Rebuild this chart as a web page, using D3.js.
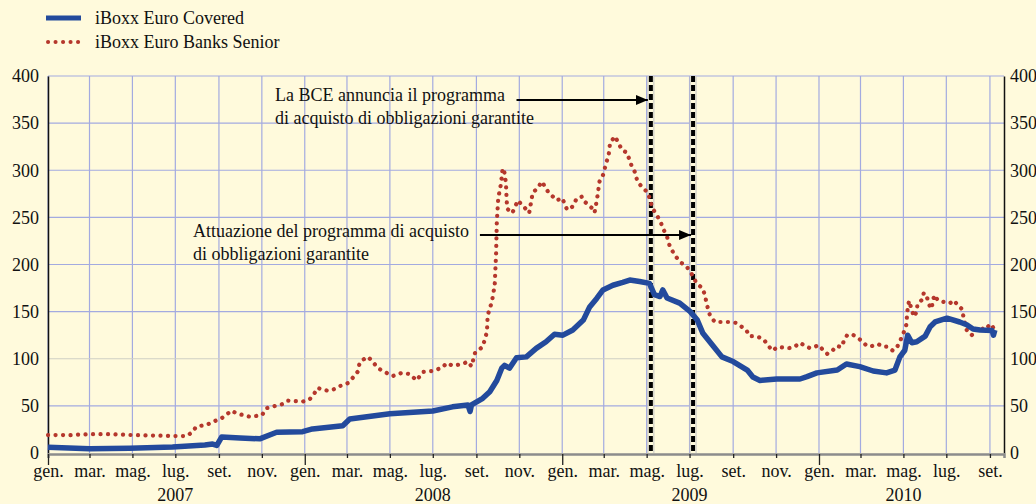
<!DOCTYPE html>
<html>
<head>
<meta charset="utf-8">
<script src="https://cdn.jsdelivr.net/npm/d3@7"></script>
<style>
  body { margin: 0; background: #fffadc; }
  svg { display: block; font-family: 'Liberation Serif', 'Times New Roman', serif; }
</style>
</head>
<body>
<svg id="chart"></svg>
<script>
// iBoxx Euro Covered (blue solid line)
const covered = [
  ['2007-01-01', 6], ['2007-03-01', 4.5], ['2007-04-27', 5], ['2007-06-27', 6.4],
  ['2007-08-12', 8.5], ['2007-08-23', 9.5], ['2007-08-29', 8], ['2007-09-05', 17],
  ['2007-10-01', 16], ['2007-10-29', 15], ['2007-11-22', 22], ['2007-12-29', 22.6],
  ['2008-01-12', 25.5], ['2008-02-24', 29], ['2008-03-05', 36], ['2008-05-01', 41.7],
  ['2008-07-01', 44.6], ['2008-07-29', 49], ['2008-08-20', 51], ['2008-08-23', 44],
  ['2008-08-25', 51], ['2008-09-10', 58], ['2008-09-20', 65], ['2008-09-30', 77],
  ['2008-10-07', 90], ['2008-10-11', 93], ['2008-10-18', 90], ['2008-10-28', 101],
  ['2008-11-11', 102], ['2008-11-25', 111], ['2008-12-09', 118], ['2008-12-21', 126],
  ['2009-01-02', 125], ['2009-01-16', 130.5], ['2009-01-31', 141], ['2009-02-09', 155],
  ['2009-02-19', 164], ['2009-02-28', 173], ['2009-03-14', 178], ['2009-03-28', 181],
  ['2009-04-07', 183.5], ['2009-04-21', 182], ['2009-05-05', 180], ['2009-05-12', 168],
  ['2009-05-20', 166], ['2009-05-24', 173], ['2009-05-30', 164.5], ['2009-06-17', 159],
  ['2009-07-02', 150], ['2009-07-12', 141], ['2009-07-20', 127], ['2009-08-03', 114],
  ['2009-08-16', 102], ['2009-09-01', 97], ['2009-09-21', 88], ['2009-09-29', 80.6],
  ['2009-10-09', 77], ['2009-11-02', 78.5], ['2009-12-05', 78.5], ['2009-12-15', 81],
  ['2009-12-29', 85], ['2010-01-27', 88], ['2010-02-09', 94.4], ['2010-02-28', 91.6],
  ['2010-03-19', 87], ['2010-04-07', 85], ['2010-04-19', 88], ['2010-04-26', 102],
  ['2010-05-03', 109], ['2010-05-07', 125], ['2010-05-13', 117], ['2010-05-20', 118],
  ['2010-06-01', 124], ['2010-06-08', 134], ['2010-06-15', 139], ['2010-07-02', 143],
  ['2010-07-20', 139], ['2010-07-30', 136], ['2010-08-08', 131.6], ['2010-08-18', 130.5],
  ['2010-09-04', 130], ['2010-09-06', 125], ['2010-09-08', 130.5]
];

// iBoxx Euro Banks Senior (red dotted line)
const senior = [
  ['2007-01-01', 19], ['2007-02-01', 19], ['2007-03-01', 20], ['2007-04-01', 20],
  ['2007-05-01', 19], ['2007-06-01', 18.5], ['2007-07-01', 18], ['2007-07-17', 18],
  ['2007-07-24', 21.5], ['2007-07-31', 28], ['2007-08-15', 30], ['2007-08-23', 33],
  ['2007-09-05', 37], ['2007-09-19', 45], ['2007-09-26', 42], ['2007-10-15', 38.5],
  ['2007-11-01', 40], ['2007-11-08', 47.7], ['2007-12-01', 52], ['2007-12-08', 55.5],
  ['2007-12-29', 54.5], ['2008-01-08', 57], ['2008-01-15', 63.6], ['2008-01-19', 69],
  ['2008-02-03', 66], ['2008-02-13', 68], ['2008-02-20', 71], ['2008-03-02', 74],
  ['2008-03-09', 79.6], ['2008-03-16', 86], ['2008-03-19', 95.5], ['2008-03-23', 98.7],
  ['2008-03-31', 102], ['2008-04-07', 96.5], ['2008-04-14', 90], ['2008-04-21', 87],
  ['2008-05-05', 81.7], ['2008-05-18', 85], ['2008-05-29', 83.8], ['2008-06-08', 77],
  ['2008-06-17', 86], ['2008-07-01', 87], ['2008-07-14', 90.5], ['2008-07-21', 95.5],
  ['2008-07-29', 92.6], ['2008-08-12', 94.4], ['2008-08-20', 97], ['2008-08-25', 92],
  ['2008-08-30', 106], ['2008-09-10', 112.8], ['2008-09-16', 128.7], ['2008-09-17', 146],
  ['2008-09-23', 160.5], ['2008-09-27', 178], ['2008-09-29', 212], ['2008-09-30', 245],
  ['2008-10-02', 270], ['2008-10-06', 286], ['2008-10-08', 300], ['2008-10-10', 302],
  ['2008-10-13', 286], ['2008-10-14', 268], ['2008-10-15', 259], ['2008-10-22', 254.6],
  ['2008-10-30', 268], ['2008-11-05', 263], ['2008-11-09', 260], ['2008-11-15', 254.6],
  ['2008-11-20', 276], ['2008-11-27', 281], ['2008-12-03', 288], ['2008-12-12', 277],
  ['2008-12-24', 268], ['2009-01-01', 270.5], ['2009-01-08', 258], ['2009-01-15', 261],
  ['2009-01-22', 270.5], ['2009-01-29', 272], ['2009-02-02', 266.6], ['2009-02-12', 260],
  ['2009-02-16', 255], ['2009-02-20', 272], ['2009-02-23', 288], ['2009-02-28', 295],
  ['2009-03-05', 309], ['2009-03-08', 316], ['2009-03-10', 329], ['2009-03-17', 336],
  ['2009-03-27', 321.5], ['2009-04-03', 318.6], ['2009-04-10', 303.8], ['2009-04-14', 298.5],
  ['2009-04-18', 288], ['2009-04-24', 282.6], ['2009-05-03', 276], ['2009-05-08', 263],
  ['2009-05-10', 259], ['2009-05-15', 252.5], ['2009-05-20', 247], ['2009-05-24', 238.7],
  ['2009-05-30', 229.5], ['2009-06-03', 219], ['2009-06-10', 210], ['2009-06-17', 203],
  ['2009-06-27', 197.7], ['2009-07-04', 190], ['2009-07-11', 180], ['2009-07-19', 175],
  ['2009-07-23', 167.6], ['2009-07-25', 159], ['2009-07-30', 146], ['2009-08-06', 139],
  ['2009-08-27', 139], ['2009-09-06', 138], ['2009-09-13', 134], ['2009-09-20', 130],
  ['2009-09-24', 124], ['2009-10-01', 124], ['2009-10-08', 122.7], ['2009-10-15', 120],
  ['2009-10-20', 114.6], ['2009-10-27', 108.5], ['2009-11-03', 112.5], ['2009-11-20', 111.4],
  ['2009-11-27', 112.5], ['2009-12-05', 117], ['2009-12-12', 113.5], ['2009-12-19', 111.4],
  ['2009-12-26', 112.5], ['2009-12-31', 114.6], ['2010-01-06', 110], ['2010-01-13', 105],
  ['2010-01-20', 108.5], ['2010-01-26', 113.5], ['2010-02-02', 112.5], ['2010-02-06', 120],
  ['2010-02-10', 125], ['2010-02-17', 126], ['2010-02-24', 122.7], ['2010-03-03', 119],
  ['2010-03-10', 113.5], ['2010-03-17', 113.5], ['2010-03-26', 115.6], ['2010-04-02', 112.8],
  ['2010-04-09', 112.8], ['2010-04-16', 108.5], ['2010-04-22', 112.5], ['2010-04-26', 118],
  ['2010-04-29', 124], ['2010-05-03', 130.5], ['2010-05-05', 135.8], ['2010-05-06', 144.6],
  ['2010-05-07', 152.8], ['2010-05-09', 161.6], ['2010-05-13', 151.7], ['2010-05-16', 144.6],
  ['2010-05-20', 150], ['2010-05-21', 158], ['2010-05-28', 163], ['2010-05-30', 170],
  ['2010-06-04', 164], ['2010-06-06', 158], ['2010-06-10', 153], ['2010-06-12', 161.6],
  ['2010-06-14', 167.6], ['2010-06-19', 162], ['2010-06-26', 160.5], ['2010-07-06', 158.8],
  ['2010-07-12', 162], ['2010-07-17', 157], ['2010-07-23', 152.8], ['2010-07-27', 139],
  ['2010-07-30', 130.5], ['2010-08-06', 125], ['2010-08-13', 130.5], ['2010-08-19', 134],
  ['2010-08-23', 130.5], ['2010-08-30', 134.7], ['2010-09-02', 137], ['2010-09-08', 130.5]
];

const monthNames = ['gen.', 'feb.', 'mar.', 'apr.', 'mag.', 'giu.', 'lug.', 'ago.', 'set.', 'ott.', 'nov.', 'dic.'];
const yearLabels = [['2007', '2007-07-01'], ['2008', '2008-07-01'], ['2009', '2009-07-01'], ['2010', '2010-05-01']];
const yTicks = [0, 50, 100, 150, 200, 250, 300, 350, 400];
const legendNames = ['iBoxx Euro Covered', 'iBoxx Euro Banks Senior'];
const eventDates = ['2009-05-07', '2009-07-06'];
const eventTexts = [
  ['La BCE annuncia il programma', 'di acquisto di obbligazioni garantite'],
  ['Attuazione del programma di acquisto', 'di obbligazioni garantite']
];

const width = 1036, height = 504;
const padL = 48, padR = 1004, padT = 76, padB = 453;
const blue = '#234a9c', red = '#b5372c', grid = '#a3aae0';
const parse = d3.timeParse('%Y-%m-%d');

let svg = d3.select('#chart')
  .attr('width', width)
  .attr('height', height)
  .style('background', '#fffadc');

let x = d3.scaleTime()
  .domain([parse('2007-01-01'), parse('2010-09-21')])
  .range([padL, padR]);

let y = d3.scaleLinear()
  .domain([0, 400])
  .range([padB, padT]);

let monthTicks = d3.timeMonth.every(2).range(parse('2007-01-01'), parse('2010-09-21'));

// grid
svg.append('g')
  .selectAll('line')
  .data(monthTicks)
  .enter()
  .append('line')
  .attr('x1', d => x(d))
  .attr('x2', d => x(d))
  .attr('y1', padT)
  .attr('y2', padB)
  .attr('stroke', grid)
  .attr('stroke-width', 1.2);

svg.append('g')
  .selectAll('line')
  .data(yTicks.filter(d => d > 0))
  .enter()
  .append('line')
  .attr('x1', padL)
  .attr('x2', padR)
  .attr('y1', d => y(d))
  .attr('y2', d => y(d))
  .attr('stroke', d => (d === 100 ? '#cfcfc4' : grid))
  .attr('stroke-width', 1.2);

// y axes
let axisL = svg.append('g')
  .attr('transform', 'translate(' + padL + ',0)')
  .call(d3.axisLeft(y).tickValues(yTicks).tickSize(0).tickPadding(9));
let axisR = svg.append('g')
  .attr('transform', 'translate(' + padR + ',0)')
  .call(d3.axisRight(y).tickValues(yTicks).tickSize(0).tickPadding(6));
[axisL, axisR].forEach(a => {
  a.select('.domain').attr('stroke', '#111').attr('stroke-width', 1.5);
  a.selectAll('text')
    .attr('font-family', 'Liberation Serif, serif')
    .attr('font-size', 18)
    .attr('fill', '#111');
});

// x axis
let axisB = svg.append('g')
  .attr('transform', 'translate(0,' + (padB + 1) + ')')
  .call(d3.axisBottom(x)
    .tickValues(monthTicks)
    .tickSize(4)
    .tickPadding(6)
    .tickFormat(d => monthNames[d.getMonth()]));
axisB.select('.domain').attr('stroke', '#8c8c8c').attr('stroke-width', 2.5);
axisB.selectAll('line')
  .attr('stroke', '#222')
  .attr('stroke-width', 1.3)
  .attr('y2', d => (d.getMonth() === 0 ? 11 : 4));
axisB.selectAll('text')
  .attr('font-family', 'Liberation Serif, serif')
  .attr('font-size', 18)
  .attr('fill', '#111');

svg.append('g')
  .selectAll('text')
  .data(yearLabels)
  .enter()
  .append('text')
  .attr('x', d => x(parse(d[1])))
  .attr('y', 501)
  .attr('text-anchor', 'middle')
  .attr('font-size', 18)
  .attr('fill', '#111')
  .text(d => d[0]);

// event lines
let events = svg.append('g')
  .selectAll('g')
  .data(eventDates)
  .enter()
  .append('g');
events.append('line')
  .attr('x1', d => x(parse(d)))
  .attr('x2', d => x(parse(d)))
  .attr('y1', padT)
  .attr('y2', padB)
  .attr('stroke', '#c4c4c4')
  .attr('stroke-width', 7);
events.append('line')
  .attr('x1', d => x(parse(d)))
  .attr('x2', d => x(parse(d)))
  .attr('y1', padT)
  .attr('y2', padB)
  .attr('stroke', '#fffadc')
  .attr('stroke-width', 5);
events.append('line')
  .attr('x1', d => x(parse(d)))
  .attr('x2', d => x(parse(d)))
  .attr('y1', padT)
  .attr('y2', padB)
  .attr('stroke', '#000')
  .attr('stroke-width', 4)
  .attr('stroke-dasharray', '6,3');

// series
let line = d3.line()
  .x(d => x(parse(d[0])))
  .y(d => y(d[1]));

svg.append('path')
  .datum(senior)
  .attr('d', line)
  .attr('fill', 'none')
  .attr('stroke', red)
  .attr('stroke-width', 4.2)
  .attr('stroke-linecap', 'round')
  .attr('stroke-dasharray', '0.1,7.4');

svg.append('path')
  .datum(covered)
  .attr('d', line)
  .attr('fill', 'none')
  .attr('stroke', blue)
  .attr('stroke-width', 5.5)
  .attr('stroke-linejoin', 'round');

// annotations
svg.append('defs')
  .append('marker')
  .attr('id', 'arrow')
  .attr('viewBox', '0 0 12 10')
  .attr('refX', 12)
  .attr('refY', 5)
  .attr('markerWidth', 12)
  .attr('markerHeight', 10)
  .attr('markerUnits', 'userSpaceOnUse')
  .attr('orient', 'auto')
  .append('path')
  .attr('d', 'M0,0L12,5L0,10Z')
  .attr('fill', '#000');

let notes = [
  { text: eventTexts[0], tx: 275, ty: 101, from: '2008-10-28', to: eventDates[0], ay: 100, tip: -3 },
  { text: eventTexts[1], tx: 193, ty: 237, from: '2008-09-06', to: eventDates[1], ay: 235, tip: -2 }
];
notes.forEach(n => {
  let t = svg.append('text')
    .attr('x', n.tx)
    .attr('y', n.ty)
    .attr('font-size', 18)
    .attr('fill', '#111');
  t.append('tspan').attr('x', n.tx).text(n.text[0]);
  t.append('tspan').attr('x', n.tx).attr('dy', 23).text(n.text[1]);
  svg.append('line')
    .attr('x1', x(parse(n.from)))
    .attr('x2', x(parse(n.to)) + n.tip)
    .attr('y1', n.ay)
    .attr('y2', n.ay)
    .attr('stroke', '#000')
    .attr('stroke-width', 2)
    .attr('marker-end', 'url(#arrow)');
});

// legend
let legend = svg.append('g');
legend.append('line')
  .attr('x1', 46).attr('x2', 81).attr('y1', 18).attr('y2', 18)
  .attr('stroke', blue).attr('stroke-width', 5);
legend.append('line')
  .attr('x1', 48).attr('x2', 82).attr('y1', 42).attr('y2', 42)
  .attr('stroke', red).attr('stroke-width', 4)
  .attr('stroke-linecap', 'round').attr('stroke-dasharray', '0.1,7.4');
legend.selectAll('text')
  .data(legendNames)
  .enter()
  .append('text')
  .attr('x', 95)
  .attr('y', (d, i) => 24 + i * 24)
  .attr('font-size', 18)
  .attr('fill', '#111')
  .text(d => d);
</script>
</body>
</html>
